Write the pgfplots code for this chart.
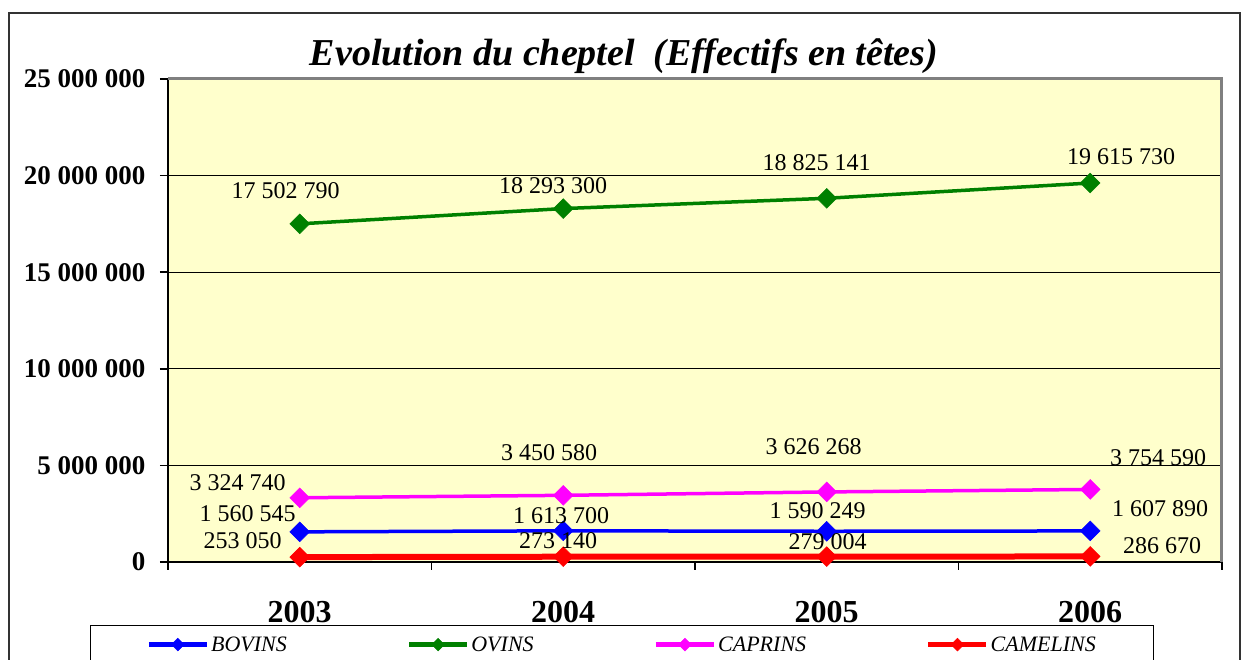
\documentclass[border=0pt]{standalone}
\usepackage{fontspec}
\setmainfont{Liberation Serif}
\usepackage{pgfplots}
\usepackage{pgfplotstable}
\pgfplotsset{compat=1.18}
\definecolor{fond}{HTML}{FFFFCC}
\definecolor{vert}{HTML}{008000}
\definecolor{rose}{HTML}{FF00FF}
\newcommand\s{\kern0.25em}

% x = year index (1 = 2003), dx/dy = label offset in pt
\pgfplotstableread{
x y dx dy lab
1 1560545 -52 18 1\s560\s545
2 1613700 -2 15 1\s613\s700
3 1590249 -9 21 1\s590\s249
4 1607890 70 22 1\s607\s890
}\bovins
\pgfplotstableread{
x y dx dy lab
1 17502790 -14 33 17\s502\s790
2 18293300 -10 23 18\s293\s300
3 18825141 -10 36 18\s825\s141
4 19615730 31 26 19\s615\s730
}\ovins
\pgfplotstableread{
x y dx dy lab
1 3324740 -62 15 3\s324\s740
2 3450580 -14 43 3\s450\s580
3 3626268 -13 45 3\s626\s268
4 3754590 68 32 3\s754\s590
}\caprins
\pgfplotstableread{
x y dx dy lab
1 253050 -57 16 253\s050
2 273140 -5 16 273\s140
3 279004 1 15 279\s004
4 286670 72 11 286\s670
}\camelins

\pgfplotsset{
  serie/.style={line width=3.5pt, mark=square*, mark size=7pt,
    mark options={rotate=45, solid, line width=0.5pt},
    nodes near coords, point meta=explicit symbolic,
    visualization depends on={\thisrow{dx}\as\lx},
    visualization depends on={\thisrow{dy}\as\ly},
    every node near coord/.append style={anchor=center, text=black,
      xshift=\lx pt, yshift=\ly pt, font=\fontsize{24}{28}\selectfont}},
}

\begin{document}
\begin{tikzpicture}
\begin{axis}[
  name=ax, at={(0,0)}, anchor=south west,
  scale only axis, width=1054pt, height=483pt,
  xmin=0.5, xmax=4.5, ymin=0, ymax=25000000,
  clip=false, scaled y ticks=false,
  axis background/.style={fill=fond},
  axis x line*=bottom, axis y line*=left,
  axis line style={line width=1.8pt, black},
  tick align=outside,
  xtick={1,2,3,4}, xticklabels={2003,2004,2005,2006},
  major x tick style={draw=none},
  minor xtick={0.5,1.5,2.5,3.5,4.5},
  minor tick length=8pt, major tick length=8pt,
  minor x tick style={line width=1.5pt, black},
  xticklabel style={font=\fontsize{32}{36}\selectfont\bfseries, yshift=-28pt},
  ytick={0,5000000,10000000,15000000,20000000,25000000},
  yticklabels={0,5\s000\s000,10\s000\s000,15\s000\s000,20\s000\s000,25\s000\s000},
  yticklabel style={font=\fontsize{27}{30}\selectfont\bfseries, xshift=-11pt},
  major y tick style={line width=1.5pt, black},
  ymajorgrids, major grid style={line width=1.3pt, black},
  legend columns=4,
  legend style={at={(-0.074,-0.1304)}, anchor=north west,
    draw=black, line width=1.2pt, fill=white,
    inner xsep=56pt, inner ysep=9pt,
    font=\fontsize{22}{26}\selectfont\itshape,
    nodes={inner sep=2pt},
    /tikz/every even column/.append style={column sep=118pt}},
  legend image code/.code={
    \draw[#1, line width=4.5pt, mark size=4.5pt, mark repeat=2, mark phase=2]
      plot coordinates {(0pt,0pt) (29pt,0pt) (58pt,0pt)};},
]
\addplot[serie, blue] table[x=x, y=y, meta=lab] {\bovins};
\addlegendentry{BOVINS}
\addplot[serie, vert] table[x=x, y=y, meta=lab] {\ovins};
\addlegendentry{OVINS}
\addplot[serie, rose] table[x=x, y=y, meta=lab] {\caprins};
\addlegendentry{CAPRINS}
\addplot[serie, red, line width=6pt] table[x=x, y=y, meta=lab] {\camelins};
\addlegendentry{CAMELINS}
\draw[gray, line width=3pt] (rel axis cs:0,1) -- (rel axis cs:1,1) -- (rel axis cs:1,0);
\end{axis}
\node[anchor=base, font=\fontsize{38}{44}\selectfont\bfseries\itshape]
  at ([shift={(456pt,496pt)}]ax.south west) {Evolution du cheptel\ \ (Effectifs en têtes)};
\draw[line width=1.5pt, black!80] ([shift={(-159pt,549pt)}]ax.south west)
  rectangle ([shift={(1072pt,-130pt)}]ax.south west);
\pgfresetboundingbox
\path[use as bounding box] ([shift={(-168pt,-98pt)}]ax.south west) rectangle ++(1245pt,660pt);
\end{tikzpicture}
\end{document}
